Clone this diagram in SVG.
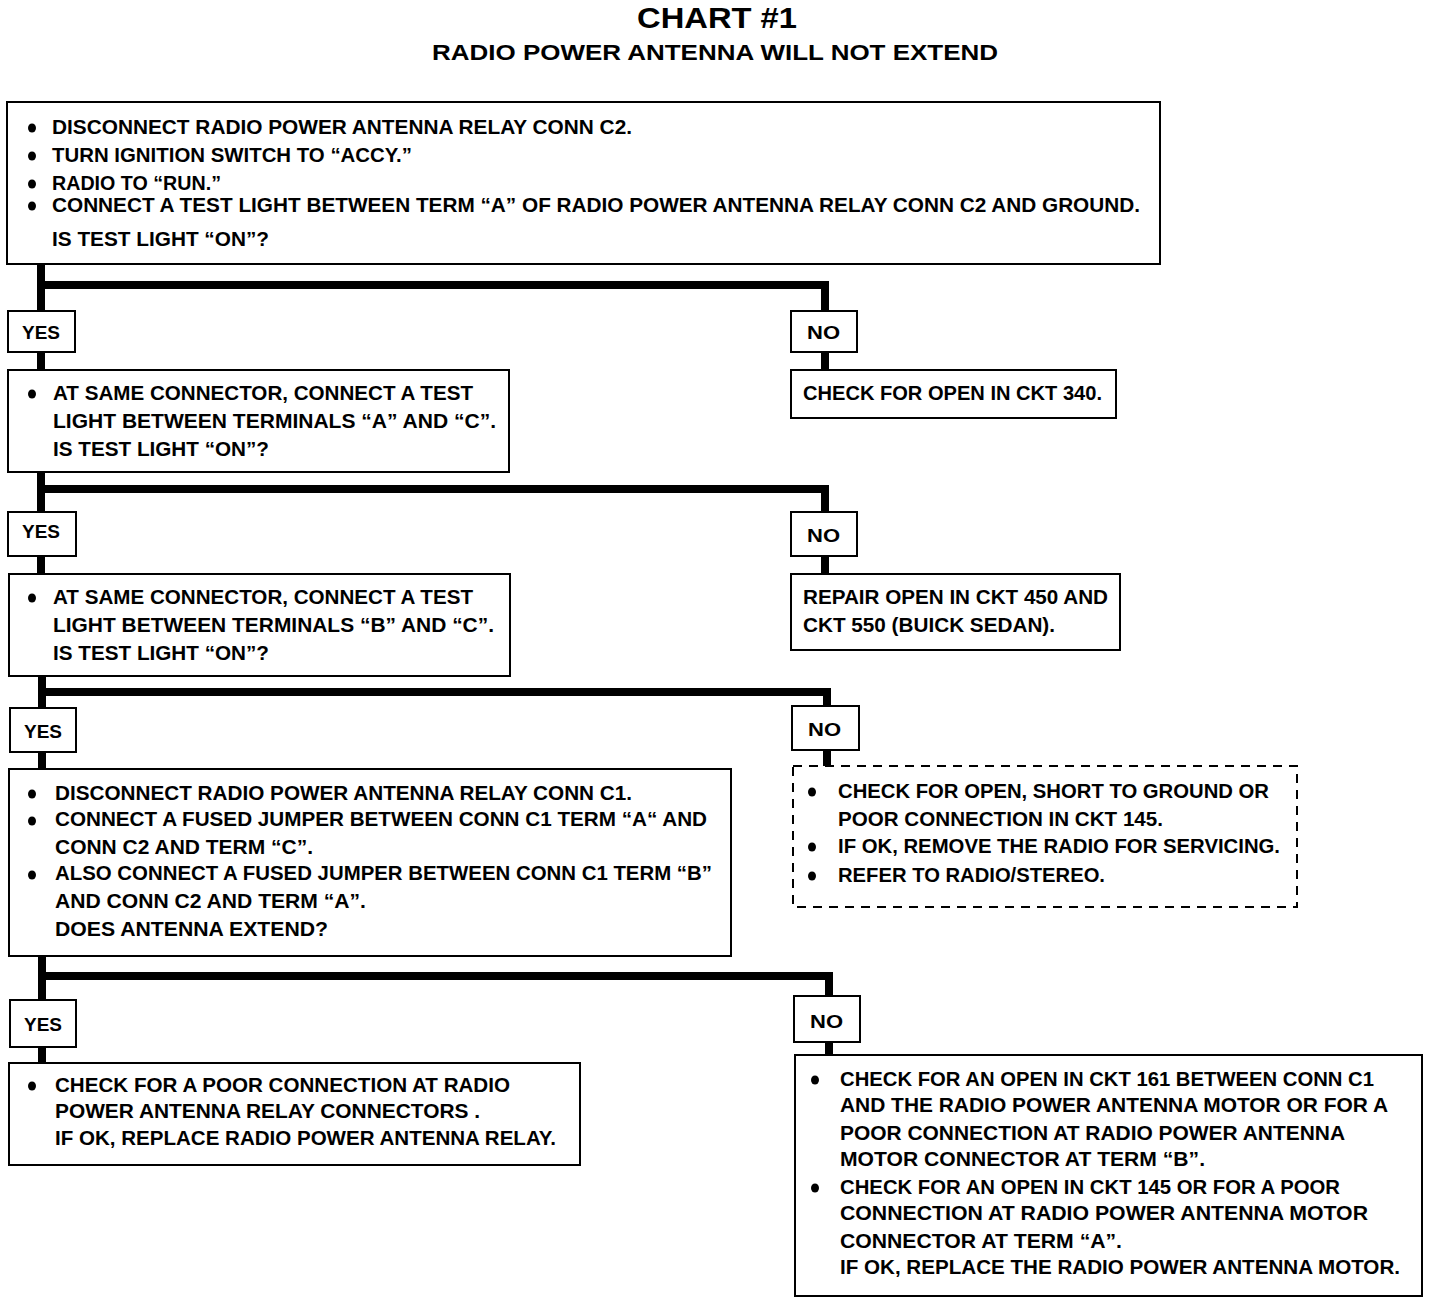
<svg xmlns="http://www.w3.org/2000/svg" width="1440" height="1302" viewBox="0 0 1440 1302">
<style>
.t{font-family:"Liberation Sans",Arial,sans-serif;font-weight:bold;font-size:20px;fill:#000}
.lab{font-family:"Liberation Sans",Arial,sans-serif;font-weight:bold;font-size:18px;fill:#000}
.box{fill:#fff;stroke:#000;stroke-width:2}
.dash{fill:#fff;stroke:#000;stroke-width:2;stroke-dasharray:9 7}
.conn{fill:none;stroke:#000;stroke-width:8;stroke-linejoin:miter}
.ttl{font-family:"Liberation Sans",Arial,sans-serif;font-weight:bold;fill:#000}
</style>
<defs><ellipse id="b" rx="4" ry="4.5" fill="#000"/></defs>
<rect width="1440" height="1302" fill="#fff"/>
<g id="title">
<text class="ttl" x="717" y="28" font-size="29" text-anchor="middle" textLength="160" lengthAdjust="spacingAndGlyphs">CHART #1</text>
<text class="ttl" x="715" y="60" font-size="22" text-anchor="middle" textLength="566" lengthAdjust="spacingAndGlyphs">RADIO POWER ANTENNA WILL NOT EXTEND</text>
</g>
<g id="connectors">
<path class="conn" d="M41,264 V370 M41,285 H825 V370"/>
<path class="conn" d="M41,472 V574 M41,489 H825 V574"/>
<path class="conn" d="M42,676 V769 M42,692 H827 V766"/>
<path class="conn" d="M42,956 V1063 M42,976 H829 V1055"/>
</g>
<g id="step1">
<rect class="box" x="7" y="102" width="1153" height="162"/>
<use href="#b" x="32" y="128"/><use href="#b" x="32" y="156"/><use href="#b" x="32" y="184"/><use href="#b" x="32" y="206"/>
<text class="t" x="52" y="134" textLength="580" lengthAdjust="spacingAndGlyphs">DISCONNECT RADIO POWER ANTENNA RELAY CONN C2.</text>
<text class="t" x="52" y="162" textLength="360" lengthAdjust="spacingAndGlyphs">TURN IGNITION SWITCH TO “ACCY.”</text>
<text class="t" x="52" y="190" textLength="169" lengthAdjust="spacingAndGlyphs">RADIO TO “RUN.”</text>
<text class="t" x="52" y="212" textLength="1088" lengthAdjust="spacingAndGlyphs">CONNECT A TEST LIGHT BETWEEN TERM “A” OF RADIO POWER ANTENNA RELAY CONN C2 AND GROUND.</text>
<text class="t" x="52" y="246" textLength="217" lengthAdjust="spacingAndGlyphs">IS TEST LIGHT “ON”?</text>
</g>
<g id="yes1"><rect class="box" x="8" y="311" width="67" height="41"/><text class="lab" x="22" y="339" textLength="38" lengthAdjust="spacingAndGlyphs">YES</text></g>
<g id="no1"><rect class="box" x="791" y="311" width="66" height="41"/><text class="lab" x="807" y="339" textLength="33" lengthAdjust="spacingAndGlyphs">NO</text></g>
<g id="step2">
<rect class="box" x="8" y="370" width="501" height="102"/>
<use href="#b" x="32" y="394"/>
<text class="t" x="53" y="400" textLength="420" lengthAdjust="spacingAndGlyphs">AT SAME CONNECTOR, CONNECT A TEST</text>
<text class="t" x="53" y="428" textLength="443" lengthAdjust="spacingAndGlyphs">LIGHT BETWEEN TERMINALS “A” AND “C”.</text>
<text class="t" x="53" y="456" textLength="216" lengthAdjust="spacingAndGlyphs">IS TEST LIGHT “ON”?</text>
</g>
<g id="result1">
<rect class="box" x="791" y="370" width="325" height="48"/>
<text class="t" x="803" y="400" textLength="299" lengthAdjust="spacingAndGlyphs">CHECK FOR OPEN IN CKT 340.</text>
</g>
<g id="yes2"><rect class="box" x="8" y="512" width="68" height="44"/><text class="lab" x="22" y="538" textLength="38" lengthAdjust="spacingAndGlyphs">YES</text></g>
<g id="no2"><rect class="box" x="791" y="512" width="66" height="44"/><text class="lab" x="807" y="542" textLength="33" lengthAdjust="spacingAndGlyphs">NO</text></g>
<g id="step3">
<rect class="box" x="9" y="574" width="501" height="102"/>
<use href="#b" x="32" y="598"/>
<text class="t" x="53" y="604" textLength="420" lengthAdjust="spacingAndGlyphs">AT SAME CONNECTOR, CONNECT A TEST</text>
<text class="t" x="53" y="632" textLength="441" lengthAdjust="spacingAndGlyphs">LIGHT BETWEEN TERMINALS “B” AND “C”.</text>
<text class="t" x="53" y="660" textLength="216" lengthAdjust="spacingAndGlyphs">IS TEST LIGHT “ON”?</text>
</g>
<g id="result2">
<rect class="box" x="791" y="574" width="329" height="76"/>
<text class="t" x="803" y="604" textLength="305" lengthAdjust="spacingAndGlyphs">REPAIR OPEN IN CKT 450 AND</text>
<text class="t" x="803" y="632" textLength="252" lengthAdjust="spacingAndGlyphs">CKT 550 (BUICK SEDAN).</text>
</g>
<g id="yes3"><rect class="box" x="10" y="708" width="66" height="44"/><text class="lab" x="24" y="738" textLength="38" lengthAdjust="spacingAndGlyphs">YES</text></g>
<g id="no3"><rect class="box" x="792" y="706" width="67" height="44"/><text class="lab" x="808" y="736" textLength="33" lengthAdjust="spacingAndGlyphs">NO</text></g>
<g id="step4">
<rect class="box" x="9" y="769" width="722" height="187"/>
<use href="#b" x="32" y="794"/><use href="#b" x="32" y="821"/><use href="#b" x="32" y="875"/>
<text class="t" x="55" y="800" textLength="577" lengthAdjust="spacingAndGlyphs">DISCONNECT RADIO POWER ANTENNA RELAY CONN C1.</text>
<text class="t" x="55" y="826" textLength="652" lengthAdjust="spacingAndGlyphs">CONNECT A FUSED JUMPER BETWEEN CONN C1 TERM “A“ AND</text>
<text class="t" x="55" y="854" textLength="258" lengthAdjust="spacingAndGlyphs">CONN C2 AND TERM “C”.</text>
<text class="t" x="55" y="880" textLength="657" lengthAdjust="spacingAndGlyphs">ALSO CONNECT A FUSED JUMPER BETWEEN CONN C1 TERM “B”</text>
<text class="t" x="55" y="908" textLength="311" lengthAdjust="spacingAndGlyphs">AND CONN C2 AND TERM “A”.</text>
<text class="t" x="55" y="936" textLength="273" lengthAdjust="spacingAndGlyphs">DOES ANTENNA EXTEND?</text>
</g>
<g id="result3">
<rect class="dash" x="793" y="766" width="504" height="141"/>
<use href="#b" x="812" y="792"/><use href="#b" x="812" y="847"/><use href="#b" x="812" y="876"/>
<text class="t" x="838" y="798" textLength="431" lengthAdjust="spacingAndGlyphs">CHECK FOR OPEN, SHORT TO GROUND OR</text>
<text class="t" x="838" y="826" textLength="325" lengthAdjust="spacingAndGlyphs">POOR CONNECTION IN CKT 145.</text>
<text class="t" x="838" y="853" textLength="442" lengthAdjust="spacingAndGlyphs">IF OK, REMOVE THE RADIO FOR SERVICING.</text>
<text class="t" x="838" y="882" textLength="267" lengthAdjust="spacingAndGlyphs">REFER TO RADIO/STEREO.</text>
</g>
<g id="yes4"><rect class="box" x="10" y="1000" width="66" height="47"/><text class="lab" x="24" y="1031" textLength="38" lengthAdjust="spacingAndGlyphs">YES</text></g>
<g id="no4"><rect class="box" x="794" y="996" width="66" height="46"/><text class="lab" x="810" y="1028" textLength="33" lengthAdjust="spacingAndGlyphs">NO</text></g>
<g id="result4">
<rect class="box" x="9" y="1063" width="571" height="102"/>
<use href="#b" x="32" y="1086"/>
<text class="t" x="55" y="1092" textLength="455" lengthAdjust="spacingAndGlyphs">CHECK FOR A POOR CONNECTION AT RADIO</text>
<text class="t" x="55" y="1118" textLength="425" lengthAdjust="spacingAndGlyphs">POWER ANTENNA RELAY CONNECTORS .</text>
<text class="t" x="55" y="1145" textLength="501" lengthAdjust="spacingAndGlyphs">IF OK, REPLACE RADIO POWER ANTENNA RELAY.</text>
</g>
<g id="result5">
<rect class="box" x="795" y="1055" width="627" height="241"/>
<use href="#b" x="815" y="1080"/><use href="#b" x="815" y="1188"/>
<text class="t" x="840" y="1086" textLength="534" lengthAdjust="spacingAndGlyphs">CHECK FOR AN OPEN IN CKT 161 BETWEEN CONN C1</text>
<text class="t" x="840" y="1112" textLength="548" lengthAdjust="spacingAndGlyphs">AND THE RADIO POWER ANTENNA MOTOR OR FOR A</text>
<text class="t" x="840" y="1140" textLength="505" lengthAdjust="spacingAndGlyphs">POOR CONNECTION AT RADIO POWER ANTENNA</text>
<text class="t" x="840" y="1166" textLength="365" lengthAdjust="spacingAndGlyphs">MOTOR CONNECTOR AT TERM “B”.</text>
<text class="t" x="840" y="1194" textLength="500" lengthAdjust="spacingAndGlyphs">CHECK FOR AN OPEN IN CKT 145 OR FOR A POOR</text>
<text class="t" x="840" y="1220" textLength="528" lengthAdjust="spacingAndGlyphs">CONNECTION AT RADIO POWER ANTENNA MOTOR</text>
<text class="t" x="840" y="1248" textLength="282" lengthAdjust="spacingAndGlyphs">CONNECTOR AT TERM “A”.</text>
<text class="t" x="840" y="1274" textLength="560" lengthAdjust="spacingAndGlyphs">IF OK, REPLACE THE RADIO POWER ANTENNA MOTOR.</text>
</g>
</svg>
